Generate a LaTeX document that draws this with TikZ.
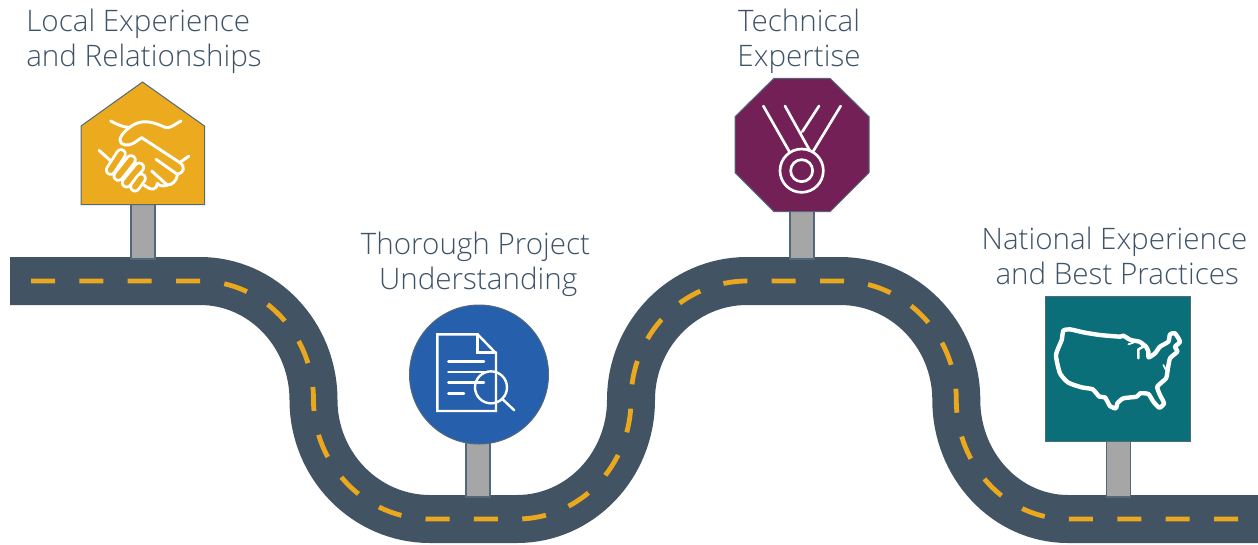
\documentclass[tikz,border=0pt]{standalone}
\usepackage{fontspec}
\setmainfont{Open Sans Light}
\definecolor{roadc}{HTML}{425464}
\definecolor{textc}{HTML}{3F5368}
\definecolor{dashc}{HTML}{EAA81F}
\definecolor{goldc}{HTML}{ECAA1E}
\definecolor{bluec}{HTML}{2660AC}
\definecolor{plumc}{HTML}{722056}
\definecolor{tealc}{HTML}{0A6F78}
\definecolor{postc}{HTML}{A6A6A6}
\definecolor{edgec}{HTML}{54687C}
\tikzset{
  sign/.style={draw=edgec,line width=0.75pt,line join=miter},
  post/.style={draw=edgec,fill=postc,line width=0.9pt},
  caption/.style={inner sep=0pt,text=textc,font=\fontsize{22.2pt}{26.2pt}\selectfont},
  icon/.style={draw=white,line cap=round,line join=round,line width=2.2pt},
  fine/.style={draw=white,line cap=round,line join=miter,line width=1.8pt},
}
\begin{document}
\begin{tikzpicture}[x=0.75pt,y=-0.75pt]
\useasboundingbox (0,0) rectangle (1258,544);
% road
\def\roadpath{(10,281) -- (200,281)
  .. controls (262.7,281) and (313.5,334.3) .. (313.5,400)
  .. controls (313.5,465.7) and (365.7,519) .. (430,519)
  -- (517,519)
  .. controls (580,519) and (631,465.7) .. (631,400)
  .. controls (631,334.3) and (683,281) .. (747,281)
  -- (840,281)
  .. controls (904.2,281) and (956.3,334.3) .. (956.3,400)
  .. controls (956.3,465.7) and (1006.3,519) .. (1068,519)
  -- (1258,519)}
\draw[roadc,line width=36pt] \roadpath;
\draw[dashc,line width=3.6pt,dash pattern=on 18pt off 18.28pt,dash phase=-15.75pt] \roadpath;
% posts
\path[post] (131,200) rectangle (155,259);
\path[post] (466,440) rectangle (490,497);
\path[post] (790,208) rectangle (814,259);
\path[post] (1106.5,438) rectangle (1130.5,497);
% signs
\path[sign,fill=goldc] (81,126) -- (142.5,82) -- (204.5,126) -- (204.5,204.5) -- (81,204.5) -- cycle;
\path[sign,fill=bluec] (479,374.5) circle (69.5);
\path[sign,fill=plumc] (774,78.3) -- (830,78.3) -- (869,116.7) -- (869,172.7) -- (830,211.7) -- (774,211.7) -- (735,172.7) -- (735,116.7) -- cycle;
\path[sign,fill=tealc] (1045.3,296) rectangle (1190.7,441.7);
% handshake
\begin{scope}[shift={(70,70)},x=0.25pt,y=-0.25pt]
  \draw[icon] (122,153) .. controls (145,165) and (160,172) .. (178,172);
  \draw[icon] (87,241) -- (125,275);
  \draw[icon] (333,153) .. controls (310,165) and (300,177) .. (285,172)
     .. controls (255,158) and (225,148) .. (195,162)
     .. controls (175,172) and (150,195) .. (150,210)
     .. controls (150,228) and (175,228) .. (190,220)
     -- (215,203) -- (330,278)
     .. controls (348,292) and (340,310) .. (322,313) -- (258,268);
  \draw[icon] (322,313) .. controls (320,335) and (305,345) .. (292,345) -- (245,303);
  \draw[icon] (292,345) .. controls (280,350) and (268,348) .. (262,340);
  \draw[icon] (262,340) .. controls (262,358) and (245,365) .. (222,345);
  \draw[icon] (333,275) -- (357,258);
  \foreach \a/\b/\c/\d in {122/300/153/252, 145/318/183/270, 170/338/208/292, 195/350/213/325}{
    \draw[white,line width=8.6pt,line cap=round] (\a,\b) -- (\c,\d);
    \draw[goldc,line width=4.4pt,line cap=round] (\a,\b) -- (\c,\d);
  }
\end{scope}
% document
\begin{scope}[shift={(400,300)},x=0.25pt,y=-0.25pt]
  \draw[fine] (112,103) -- (233,103) -- (288,160) -- (288,333) -- (112,333) -- cycle;
  \draw[fine] (233,103) -- (233,158) -- (288,158);
  \draw[icon,line width=1.8pt] (145,184) -- (252,184) (145,216) -- (252,216) (145,248) -- (252,248) (145,280) -- (192,280);
  \draw[icon,line width=1.8pt] (273,262) circle (48);
  \draw[icon,line width=1.8pt] (308,298) -- (343,331);
\end{scope}
% medal
\begin{scope}[shift={(725,70)},x=0.25pt,y=-0.25pt]
  \draw[icon,line width=2pt] (115,108) -- (192,243) (180,108) -- (255,243) (282,108) -- (232,185) (347,108) -- (265,243);
  \draw[icon,line width=2pt] (230,302) circle (65);
  \draw[icon,line width=2pt] (230,302) circle (33);
\end{scope}
% map
\begin{scope}[shift={(1040,290)},x=0.25pt,y=-0.25pt]
  \draw[icon,line width=3.3pt] plot[smooth cycle,tension=0.35] coordinates {
    (70,122) (90,118) (130,127) (180,135) (240,140) (250,137) (272,150) (298,155) (318,170) (325,185) (326,202)
    (345,190) (360,170) (385,155) (390,133) (405,130) (420,155) (405,170) (412,185) (390,205) (383,240) (378,265)
    (352,290) (360,315) (372,340) (358,353) (340,335) (325,312) (300,310) (290,320) (250,325) (232,340) (228,355)
    (210,348) (195,322) (178,320) (158,298) (125,292) (85,278) (60,250) (48,195) (65,150)};
  \draw[icon,line width=1.8pt] (295,205) -- (295,178) -- (310,170);
  \draw[icon,line width=1.3pt] (265,163) -- (280,158) (370,225) -- (378,240);
\end{scope}
% captions
\node[caption,anchor=base west,align=left] (cap1) at (26,66) {Local Experience\\and Relationships};
\node[caption,anchor=base,align=center] (cap2) at (475.5,289) {Thorough Project\\\hspace*{4pt}Understanding};
\node[caption,anchor=base,align=center] (cap3) at (799,66) {Technical\\Expertise};
\node[caption,anchor=base,align=center] (cap4) at (1114.5,284) {National Experience\\\hspace*{4pt}and Best Practices};
\end{tikzpicture}
\end{document}
